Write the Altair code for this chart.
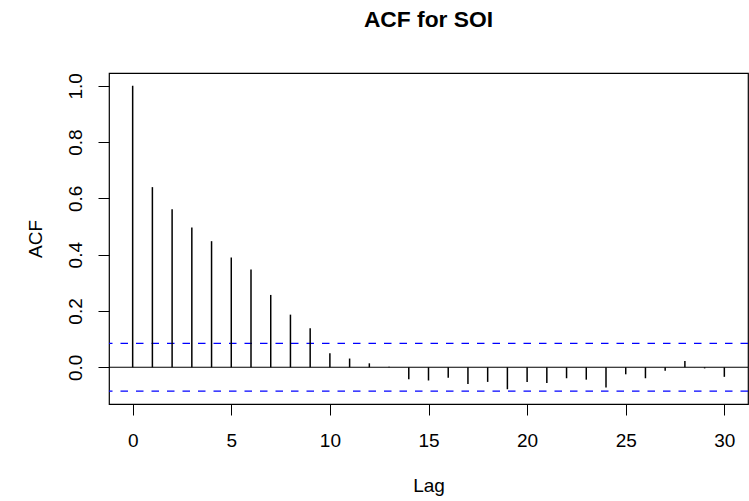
import altair as alt
import pandas as pd

# ---- data ----
lags = list(range(31))
acf_values = [1.000, 0.640, 0.561, 0.497, 0.448, 0.390, 0.347, 0.257, 0.187, 0.139,
              0.050, 0.031, 0.014, 0.002, -0.043, -0.047, -0.037, -0.059, -0.052, -0.078,
              -0.052, -0.056, -0.039, -0.044, -0.072, -0.025, -0.039, -0.012, 0.022, -0.004,
              -0.034]
ci_bound = 0.085
x_ticks = [0, 5, 10, 15, 20, 25, 30]
y_ticks = [0.0, 0.2, 0.4, 0.6, 0.8, 1.0]
title_text = "ACF for SOI"
x_title = "Lag"
y_title = "ACF"

df = pd.DataFrame({"lag": lags, "acf": acf_values, "base": [0.0] * len(lags)})
ci_df = pd.DataFrame({"level": [ci_bound, -ci_bound]})
zero_df = pd.DataFrame({"level": [0.0]})

FONT = "Liberation Sans"
W, H = 639, 331

x_scale = alt.Scale(domain=[-1.2, 31.2], nice=False, zero=False)
y_scale = alt.Scale(domain=[-0.1305, 1.0455], nice=False, zero=False)

x_axis = alt.Axis(
    values=x_ticks, format="d", title=x_title, domain=False, grid=False,
    ticks=True, tickSize=11, tickColor="black", tickWidth=1,
    labelPadding=16, labelFontSize=19, labelFont=FONT, labelColor="black",
    labelFlush=False, labelOverlap=False,
    titleFont=FONT, titleFontSize=19, titleFontWeight="normal", titleColor="black",
    titleX=W / 2, titleY=87, titleBaseline="alphabetic", titleAlign="center",
)
y_axis = alt.Axis(
    values=y_ticks, format=".1f", title=y_title, domain=False, grid=False,
    ticks=True, tickSize=11, tickColor="black", tickWidth=1,
    labelPadding=16.5, labelFontSize=19, labelFont=FONT, labelColor="black",
    labelAngle=270, labelAlign="center", labelBaseline="alphabetic",
    labelFlush=False, labelOverlap=False,
    titleFont=FONT, titleFontSize=19, titleFontWeight="normal", titleColor="black",
    titleAngle=270, titleX=-67.5, titleY=H / 2, titleBaseline="alphabetic",
    titleAlign="center",
)

zero_line = alt.Chart(zero_df).mark_rule(color="black", strokeWidth=1.2).encode(
    y=alt.Y("level:Q", scale=y_scale, axis=y_axis)
)

ci_lines = alt.Chart(ci_df).mark_rule(
    color="#0000FF", strokeWidth=1.2, strokeDash=[7.5, 8]
).encode(
    y=alt.Y("level:Q", scale=y_scale)
)

stems = alt.Chart(df).mark_rule(color="black", strokeWidth=1.5).encode(
    x=alt.X("lag:Q", scale=x_scale, axis=x_axis),
    y=alt.Y("acf:Q", scale=y_scale),
    y2=alt.Y2("base:Q"),
)

chart = (
    alt.layer(zero_line, ci_lines, stems)
    .properties(
        width=W,
        height=H,
        title=alt.TitleParams(
            title_text, font=FONT, fontSize=22.8, fontWeight="bold", color="black",
            anchor="middle", frame="group", offset=22.6, baseline="alphabetic",
        ),
        autosize=alt.AutoSizeParams(type="none"),
        padding={"left": 109, "top": 73, "right": 1, "bottom": 97},
        background="white",
    )
    .configure_view(stroke="black", strokeWidth=1.2)
)

chart.save("out.html", embed_options={"renderer": "svg", "actions": False})
